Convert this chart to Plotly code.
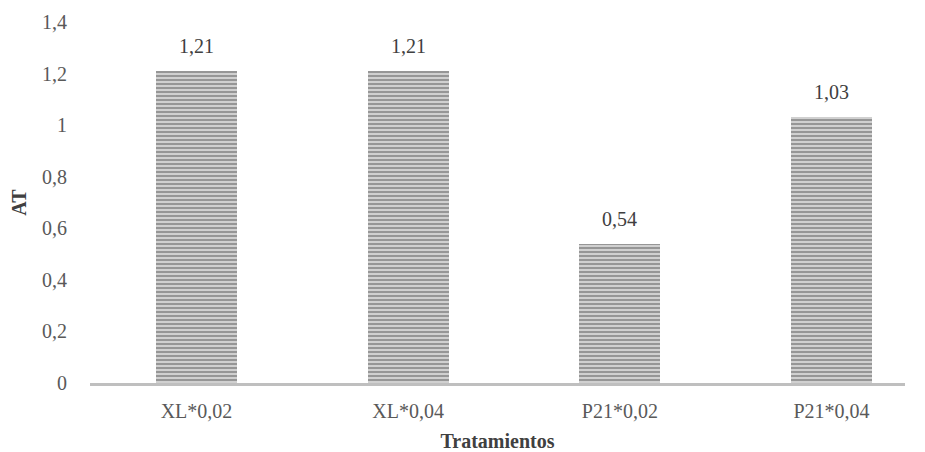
import plotly.graph_objects as go

categories = ["XL*0,02", "XL*0,04", "P21*0,02", "P21*0,04"]
values = [1.21, 1.21, 0.54, 1.03]
y_ticks = [0, 0.2, 0.4, 0.6, 0.8, 1.0, 1.2, 1.4]

xpos = list(range(len(categories)))
font_fam = "Liberation Serif, Times New Roman, serif"

fig = go.Figure(go.Bar(
    x=xpos, y=values, width=0.383,
    marker=dict(color="#bdbdbd", line=dict(width=0),
                pattern=dict(shape="-", fgcolor="#555555", bgcolor="#d6d6d6",
                             size=4, solidity=0.55, fillmode="overlay")),
    hoverinfo="skip",
))

for xi, v in zip(xpos, values):
    fig.add_annotation(x=xi, y=v, text=f"{v:.2f}".replace(".", ","),
                       showarrow=False, yanchor="bottom", yshift=12,
                       font=dict(family=font_fam, size=20, color="#404040"))

fig.update_layout(
    width=917, height=444, margin=dict(l=82, r=20, t=14, b=69, autoexpand=False),
    plot_bgcolor="white", paper_bgcolor="white", separators=",.",
    showlegend=False, bargap=0,
    font=dict(family=font_fam, size=20, color="#595959"),
    xaxis=dict(range=[-0.503, 3.347], tickvals=xpos, ticktext=categories,
               showgrid=False, zeroline=False, showline=True, linecolor="#bfbfbf",
               linewidth=3, ticks="", ticklabelstandoff=8, automargin=False,
               title=dict(text="<b>Tratamientos</b>", standoff=14,
                          font=dict(size=20, color="#404040"))),
    yaxis=dict(range=[0, 1.4], tickvals=y_ticks, showgrid=False, zeroline=False,
               showline=False, ticks="", ticklabelstandoff=22, automargin=False,
               title=dict(text="<b>AT</b>", standoff=18,
                          font=dict(size=20, color="#404040"))),
)

fig.write_html("out.html")
